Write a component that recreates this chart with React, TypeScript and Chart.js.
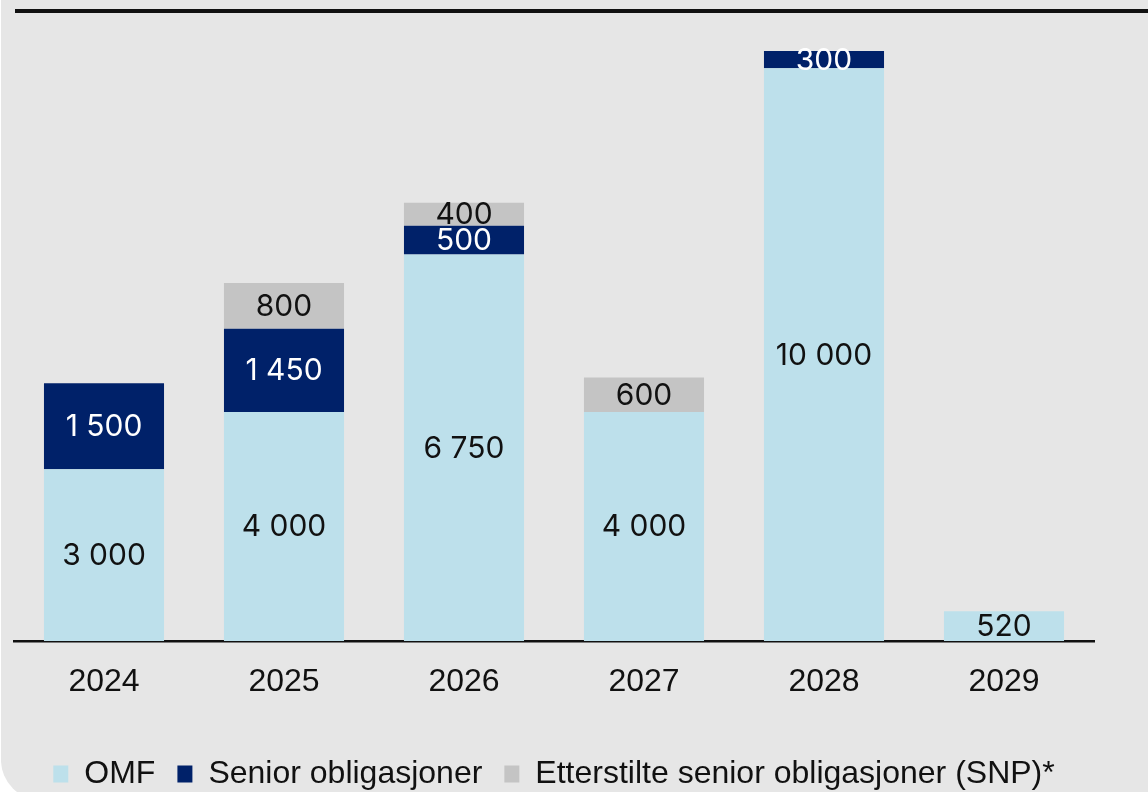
import React, { useEffect, useRef } from "react";
import { Chart, registerables } from "chart.js";

Chart.register(...registerables);

const categories = ["2024", "2025", "2026", "2027", "2028", "2029"];
const omfValues = [3000, 4000, 6750, 4000, 10000, 520];
const seniorValues = [1500, 1450, 500, null, 300, null];
const snpValues = [null, 800, 400, 600, null, null];
const seriesNames = ["OMF", "Senior obligasjoner", "Etterstilte senior obligasjoner (SNP)*"];
const seriesColors = ["#bde0eb", "#002169", "#c4c4c4"];
const labelColors = ["#111111", "#ffffff", "#111111"];

function fmt(n: number): string {
  return String(n).replace(/\B(?=(\d{3})+(?!\d))/g, " ");
}

const valueLabels = {
  id: "valueLabels",
  afterDatasetsDraw(chart: any) {
    const ctx = chart.ctx;
    ctx.save();
    ctx.font = "400 30px Inter, 'Noto Sans', sans-serif";
    ctx.textAlign = "center";
    ctx.textBaseline = "middle";
    chart.data.datasets.forEach((ds: any, di: number) => {
      const meta = chart.getDatasetMeta(di);
      meta.data.forEach((el: any, i: number) => {
        const v = ds.data[i];
        if (v == null) return;
        const { x, y, base } = el.getProps(["x", "y", "base"], true);
        ctx.fillStyle = labelColors[di];
        ctx.fillText(fmt(v), x, (y + base) / 2 + 1);
      });
    });
    ctx.restore();
  },
};

export default function App() {
  const ref = useRef<HTMLCanvasElement>(null);
  useEffect(() => {
    const chart = new Chart(ref.current!, {
      type: "bar",
      data: {
        labels: categories,
        datasets: [
          { label: seriesNames[0], data: omfValues, backgroundColor: seriesColors[0] },
          { label: seriesNames[1], data: seniorValues, backgroundColor: seriesColors[1] },
          { label: seriesNames[2], data: snpValues, backgroundColor: seriesColors[2] },
        ],
      },
      options: {
        animation: false,
        responsive: false,
        maintainAspectRatio: false,
        layout: { padding: { left: 14, right: 54, top: 11, bottom: 0 } },
        datasets: { bar: { barPercentage: 0.667, categoryPercentage: 1 } },
        scales: {
          x: {
            stacked: true,
            grid: { display: false, drawTicks: false },
            border: { display: true, color: "#111111", width: 2.5 },
            ticks: {
              color: "#111111",
              padding: 22,
              font: { family: "'Liberation Sans', Arial, sans-serif", size: 32 },
            },
            afterFit: (axis: any) => {
              axis.height = 95;
            },
          },
          y: {
            stacked: true,
            display: false,
            min: 0,
            max: 11000,
          },
        },
        plugins: {
          tooltip: { enabled: false },
          legend: {
            position: "bottom",
            labels: {
              boxWidth: 15,
              boxHeight: 17,
              padding: 22,
              color: "#111111",
              font: { family: "'Liberation Sans', Arial, sans-serif", size: 32 },
            },
          },
        },
      },
      plugins: [valueLabels],
    });
    return () => chart.destroy();
  }, []);

  return (
    <div
      style={{
        position: "fixed",
        left: 0,
        top: 0,
        width: 1148,
        height: 792,
        overflow: "hidden",
        background: "#ffffff",
      }}
    >
      <div
        style={{
          position: "absolute",
          left: 1,
          top: -20,
          width: 1200,
          height: 820,
          background: "#e6e6e6",
          borderBottomLeftRadius: 40,
        }}
      />
      <div
        style={{
          position: "absolute",
          left: 15,
          top: 9,
          width: 1140,
          height: 4,
          background: "#111111",
        }}
      />
      <canvas
        ref={ref}
        width={1148}
        height={800}
        style={{ position: "absolute", left: 0, top: 0, width: 1148, height: 800, display: "block" }}
      />
    </div>
  );
}
